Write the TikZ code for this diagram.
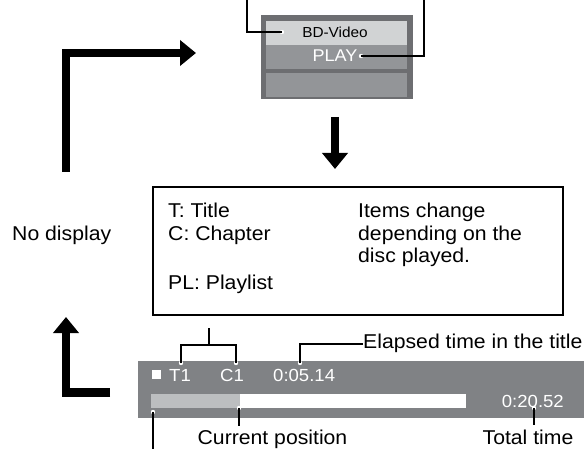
\documentclass[tikz,border=0pt]{standalone}
\usepackage{fontspec}
\setmainfont[FakeStretch=1.06]{Liberation Sans}
\usetikzlibrary{arrows.meta}
\definecolor{frameg}{HTML}{6D6E71}
\definecolor{lightg}{HTML}{D1D3D4}
\definecolor{midg}{HTML}{939598}
\definecolor{barg}{HTML}{808285}
\definecolor{progg}{HTML}{BCBEC0}
\tikzset{
  bigarrow/.style={line width=8.5pt, line join=miter, -{Triangle[length=16pt,width=25pt]}},
  leader/.style={line width=1.8pt},
  txt/.style={inner sep=0pt, anchor=base west, font=\fontsize{20}{23}\selectfont},
  ctxt/.style={inner sep=0pt, anchor=base, font=\fontsize{20}{23}\selectfont},
  bartxt/.style={inner sep=0pt, anchor=base west, text=white, font=\fontsize{17.5}{20}\selectfont},
  enddot/.style={fill=white},
}
\begin{document}
\begin{tikzpicture}[x=1pt,y=-1pt]
\useasboundingbox (0,0) rectangle (584,449);

% top menu box
\fill[frameg] (261,15) rectangle (413,99);
\fill[lightg] (266,21) rectangle (407,45);
\fill[midg] (266,45) rectangle (407,69);
\fill[midg] (266,73) rectangle (407,97);
\node[inner sep=0pt, anchor=base, font=\fontsize{14.5}{17}\selectfont] (bd) at (335,37.3) {BD-Video};
\node[inner sep=0pt, anchor=base, text=white, font=\fontsize{17}{20}\selectfont] (play) at (335,61.7) {PLAY};

% leaders for top box
\coordinate (lt0) at (247,0);
\coordinate (lt1) at (247,32);
\coordinate (lt2) at (282,32);
\coordinate (rt0) at (424,0);
\coordinate (rt1) at (424,56);
\coordinate (rt2) at (361,56);
\fill[enddot] (lt2) circle (2.2);
\fill[enddot] (rt2) circle (2.2);
\draw[leader] (lt0) -- (lt1) -- (lt2);
\draw[leader] (rt0) -- (rt1) -- (rt2);

% big arrows
\coordinate (a1s) at (66,172);
\coordinate (a1c) at (66,53);
\coordinate (a1e) at (196,53);
\draw[bigarrow] (a1s) -- (a1c) -- (a1e);
\coordinate (a2s) at (335,117);
\coordinate (a2e) at (335,169);
\draw[bigarrow] (a2s) -- (a2e);
\coordinate (a3s) at (110,392.5);
\coordinate (a3c) at (66,392.5);
\coordinate (a3e) at (66,317);
\draw[bigarrow] (a3s) -- (a3c) -- (a3e);

\node[txt] (nod) at (12,240.7) {No display};

% info box
\draw[line width=2pt] (153,187) rectangle (563,315);
\node[txt] (t) at (168,218) {T: Title};
\node[txt] (c) at (168,240.5) {C: Chapter};
\node[txt] (pl) at (168,290) {PL: Playlist};
\node[txt] (i1) at (358,218) {Items change};
\node[txt] (i2) at (358,240.5) {depending on the};
\node[txt] (i3) at (358,263) {disc played.};

% bottom bar
\fill[barg] (138,361) rectangle (584,418);
\fill[white] (152,370) rectangle (161,379);
\fill[progg] (151,394) rectangle (240,408);
\fill[white] (240,394) rectangle (466,408);
\node[bartxt] (t1) at (169,381) {T1};
\node[bartxt] (c1) at (220,381) {C1};
\node[bartxt] (el) at (273,381) {0:05.14};
\node[inner sep=0pt, anchor=base east, text=white, font=\fontsize{17.5}{20}\selectfont] (tt) at (564,407) {0:20.52};

% leaders bottom
\coordinate (br0) at (209,328);
\coordinate (br1) at (209,345);
\coordinate (brl) at (181,345);
\coordinate (brr) at (236,345);
\coordinate (brl2) at (181,363);
\coordinate (brr2) at (236,363);
\fill[enddot] (brl2) circle (2.2);
\fill[enddot] (brr2) circle (2.2);
\draw[leader] (br0) -- (br1);
\draw[leader] (brl2) -- (brl) -- (brr) -- (brr2);

\node[txt] (elab) at (363,348) {Elapsed time in the title};
\coordinate (e0) at (300,363);
\coordinate (e1) at (300,344);
\fill[enddot] (e0) circle (2.2);
\draw[leader] (e0) -- (e1) -- (elab.west |- e1);

\node[ctxt] (cp) at (272.5,444) {Current position};
\coordinate (cp0) at (239,408);
\coordinate (cp1) at (239,426);
\fill[enddot] (cp0) circle (2.2);
\draw[leader] (cp0) -- (cp1);

\coordinate (lf0) at (153,412);
\coordinate (lf1) at (153,449);
\fill[enddot] (lf0) circle (2.2);
\draw[leader] (lf0) -- (lf1);

\node[ctxt] (tot) at (528,444) {Total time};
\coordinate (tt0) at (534,408);
\coordinate (tt1) at (534,425);
\fill[enddot] (tt0) circle (2.2);
\draw[leader] (tt0) -- (tt1);
\end{tikzpicture}
\end{document}
